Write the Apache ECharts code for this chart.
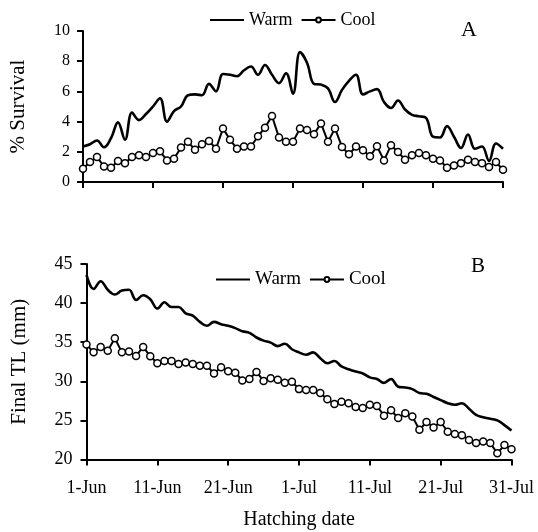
<!DOCTYPE html>
<html>
<head>
<meta charset="utf-8">
<script src="https://cdn.jsdelivr.net/npm/echarts@6/dist/echarts.min.js"></script>
<style>html,body{margin:0;padding:0;background:#fff}#c{width:538px;height:532px}</style>
</head>
<body>
<div id="c"></div>
<script>
// Hatching dates: 1-Jun .. 31-Jul (61 days)
const monthNames = ['Jun', 'Jul'];
const monthDays = [30, 31];
const dates = [];
monthNames.forEach((m, i) => { for (let d = 1; d <= monthDays[i]; d++) dates.push(d + '-' + m); });
const tickLabels = ['1-Jun', '11-Jun', '21-Jun', '1-Jul', '11-Jul', '21-Jul', '31-Jul'];

// Panel A: % Survival
const survivalWarm = [2.35, 2.5, 2.75, 2.3, 2.9, 3.95, 2.8, 4.6, 4.1, 4.5,
  5.0, 5.55, 4.0, 4.7, 5.0, 5.75, 5.8, 5.75, 6.5, 6.0,
  7.15, 7.1, 7.0, 7.4, 7.65, 7.1, 7.75, 7.1, 6.55, 7.2,
  5.85, 8.6, 7.9, 6.5, 6.45, 6.2, 5.3, 6.1, 6.7, 7.1,
  5.8, 6.0, 6.15, 5.3, 4.9, 5.4, 4.8, 4.45, 4.35, 4.25,
  3.0, 2.95, 3.7, 3.0, 2.25, 3.15, 2.2, 2.35, 1.4, 2.55, 2.2];
const survivalCool = [0.88, 1.32, 1.65, 1.03, 0.94, 1.39, 1.25, 1.65, 1.77, 1.65,
  1.92, 2.03, 1.43, 1.54, 2.28, 2.66, 2.14, 2.5, 2.72, 2.2,
  3.55, 2.8, 2.2, 2.35, 2.35, 3.03, 3.6, 4.37, 2.94, 2.66,
  2.66, 3.55, 3.44, 3.17, 3.88, 2.66, 3.55, 2.32, 1.83, 2.35,
  2.1, 1.7, 2.37, 1.43, 2.43, 1.99, 1.48, 1.77, 1.92, 1.77,
  1.54, 1.43, 0.94, 1.1, 1.25, 1.48, 1.32, 1.25, 0.99, 1.32, 0.81];

// Panel B: Final TL (mm)
const tlWarm = [43.6, 41.8, 42.8, 41.7, 41.1, 41.6, 41.7, 40.4, 41.0, 40.5,
  39.3, 40.1, 39.5, 39.5, 38.7, 38.4, 37.6, 37.1, 37.6, 37.3,
  37.1, 36.8, 36.4, 36.2, 35.6, 35.2, 34.95, 34.5, 34.8, 34.1,
  33.7, 33.4, 33.7, 32.95, 32.3, 32.6, 31.9, 31.55, 31.25, 31.0,
  30.5, 30.3, 29.8, 30.3, 29.3, 29.2, 29.0, 28.5, 28.4, 28.0,
  27.6, 27.2, 27.0, 27.2, 26.5, 25.7, 25.4, 25.2, 25.0, 24.4, 23.7];
const tlCool = [34.7, 33.7, 34.4, 33.9, 35.5, 33.7, 33.8, 33.25, 34.4, 33.2,
  32.3, 32.6, 32.6, 32.2, 32.4, 32.2, 32.0, 32.0, 31.0, 31.8,
  31.3, 31.1, 30.1, 30.3, 31.2, 30.05, 30.4, 30.2, 29.8, 29.95,
  29.0, 28.9, 28.9, 28.5, 27.7, 27.1, 27.4, 27.2, 26.7, 26.6,
  27.0, 26.85, 25.6, 26.3, 25.3, 25.9, 25.5, 23.8, 24.8, 24.1,
  24.8, 23.55, 23.25, 23.1, 22.5, 22.1, 22.3, 22.1, 20.8, 21.85, 21.3];

const FONT = '"Liberation Serif", "Times New Roman", serif';
const axisLine = { show: true, lineStyle: { color: '#000', width: 2 } };
const axisTick = { show: true, inside: false, length: 6, lineStyle: { color: '#000', width: 2 } };

const chart = echarts.init(document.getElementById('c'), null, { renderer: 'canvas' });

function xAxis(gridIndex, showLabels) {
  return {
    type: 'category', gridIndex, data: dates, boundaryGap: false,
    axisLine, axisTick: Object.assign({ interval: 9, alignWithLabel: true }, axisTick),
    axisLabel: {
      show: showLabels, interval: 9, margin: 20, color: '#000', fontFamily: FONT, fontSize: 18,
      formatter: (v, i) => tickLabels[Math.round(i / 10)]
    },
    splitLine: { show: false },
    name: showLabels ? 'Hatching date' : '', nameLocation: 'middle', nameGap: 50,
    nameTextStyle: { color: '#000', fontFamily: FONT, fontSize: 20 }
  };
}

function yAxis(gridIndex, min, max, interval, name, gap, fs, margin) {
  return {
    type: 'value', gridIndex, min, max, interval,
    axisLine, axisTick,
    axisLabel: { color: '#000', fontFamily: FONT, fontSize: fs, margin },
    splitLine: { show: false },
    name, nameLocation: 'middle', nameGap: gap, nameRotate: 90,
    nameTextStyle: { color: '#000', fontFamily: FONT, fontSize: 21 }
  };
}

const coolStyle = {
  type: 'line', symbol: 'circle', symbolSize: 7, showSymbol: true, showAllSymbol: true,
  lineStyle: { color: '#000', width: 2 },
  itemStyle: { color: '#fff', borderColor: '#000', borderWidth: 1.5 },
  emphasis: { disabled: true }
};
const warmStyle = {
  type: 'line', symbol: 'none', smooth: 0.4,
  lineStyle: { color: '#000', width: 2.6 },
  itemStyle: { color: '#000' },
  emphasis: { disabled: true }
};

function legend(left, top, fs) {
  return {
    data: [{ name: 'Warm', itemStyle: { opacity: 0 } }, { name: 'Cool' }],
    left, top, padding: 0, itemWidth: 34, itemHeight: 6, itemGap: 8, selectedMode: false,
    textStyle: { color: '#000', fontFamily: FONT, fontSize: fs }
  };
}

chart.setOption({
  animation: false,
  backgroundColor: '#fff',
  textStyle: { fontFamily: FONT },
  grid: [
    { left: 83, right: 35, top: 31, height: 151 },
    { left: 86.5, right: 26.5, top: 264, height: 195.5 }
  ],
  legend: [legend(209, 11, 18), legend(215, 270, 19)],
  xAxis: [xAxis(0, false), xAxis(1, true)],
  yAxis: [
    yAxis(0, 0, 10, 2, '% Survival', 54, 16, 13),
    yAxis(1, 20, 45, 5, 'Final TL (mm)', 57, 18, 14)
  ],
  graphic: [
    { type: 'text', left: 461, top: 19, style: { text: 'A', fontFamily: FONT, fontSize: 22, fill: '#000' } },
    { type: 'text', left: 471, top: 256, style: { text: 'B', fontFamily: FONT, fontSize: 21, fill: '#000' } }
  ],
  series: [
    Object.assign({ name: 'Warm', xAxisIndex: 0, yAxisIndex: 0, data: survivalWarm, z: 2 }, warmStyle),
    Object.assign({ name: 'Cool', xAxisIndex: 0, yAxisIndex: 0, data: survivalCool, z: 3 }, coolStyle),
    Object.assign({ name: 'Warm', xAxisIndex: 1, yAxisIndex: 1, data: tlWarm, z: 2 }, warmStyle),
    Object.assign({ name: 'Cool', xAxisIndex: 1, yAxisIndex: 1, data: tlCool, z: 3 }, coolStyle)
  ]
});
</script>
</body>
</html>
